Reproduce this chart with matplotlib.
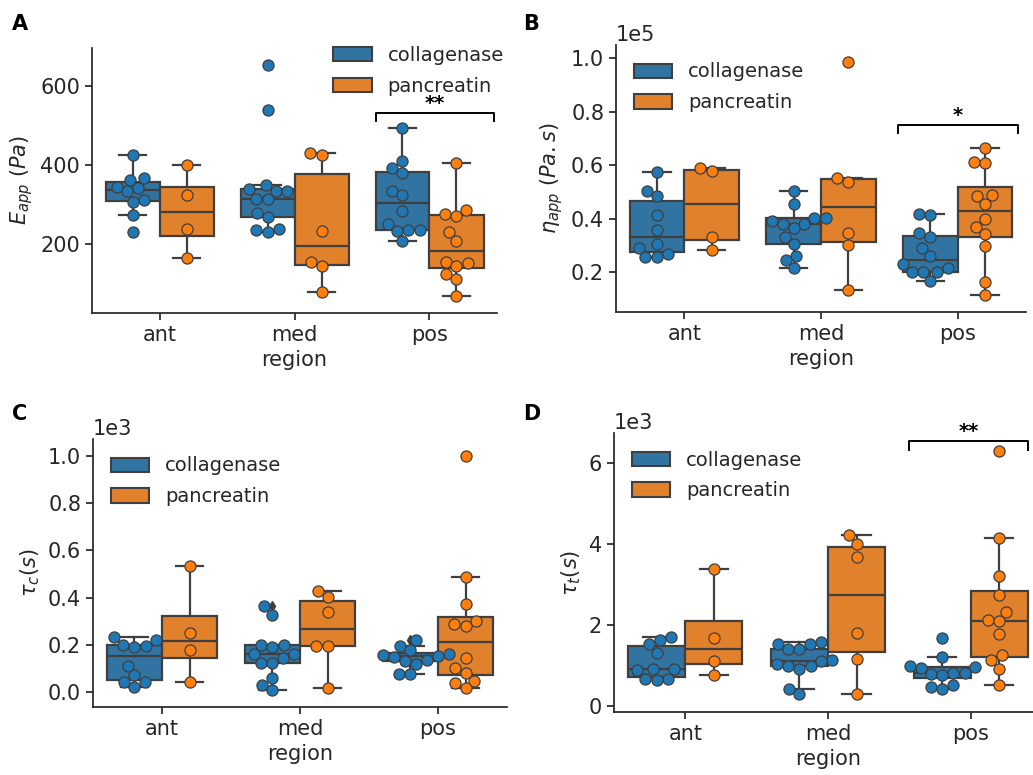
import numpy as np
import matplotlib
matplotlib.use('Agg')
from matplotlib import pyplot as plt
from matplotlib.patches import Patch

regions = ['ant', 'med', 'pos']
groups = ['collagenase', 'pancreatin']

# values per region (ant, med, pos)
eapp_collagenase = [
    [425, 366, 362, 345, 341, 333, 311, 307, 273, 229],
    [653, 539, 348, 338, 333, 333, 314, 313, 279, 268, 237, 235, 229],
    [493, 410, 392, 379, 334, 324, 284, 251, 236, 235, 233, 208],
]
eapp_pancreatin = [
    [400, 324, 237, 165],
    [430, 425, 233, 155, 143, 78],
    [406, 286, 276, 271, 230, 208, 155, 151, 145, 124, 111, 68],
]
eta_collagenase = [
    [57600, 50500, 48300, 41400, 35600, 30600, 29000, 26900, 25500, 25500],
    [50400, 45500, 40200, 40200, 39300, 38100, 38100, 36400, 33100, 30500, 26200, 24600, 21500],
    [41700, 41400, 34600, 33300, 29000, 26100, 23000, 21500, 20200, 20200, 20200, 16800],
]
eta_pancreatin = [
    [58900, 58000, 33100, 28100],
    [98800, 55100, 53900, 34800, 30000, 13400],
    [66400, 61100, 60700, 48900, 48500, 45500, 39900, 36800, 34300, 29600, 16100, 11500],
]
tauc_collagenase = [
    [232, 222, 201, 197, 190, 113, 72, 44, 44, 21],
    [363, 328, 201, 201, 190, 162, 162, 145, 124, 124, 61, 32, 10],
    [222, 197, 180, 162, 158, 155, 151, 135, 134, 121, 79, 79],
]
tauc_pancreatin = [
    [532, 251, 180, 44],
    [429, 403, 339, 197, 197, 18],
    [1000, 486, 375, 300, 290, 282, 145, 103, 82, 49, 39, 18],
]
taut_collagenase = [
    [1712, 1630, 1531, 1325, 930, 930, 889, 683, 683, 658],
    [1588, 1547, 1547, 1424, 1424, 1140, 1120, 1037, 988, 988, 930, 420, 296],
    [1695, 1218, 988, 971, 955, 823, 823, 807, 765, 535, 477, 436],
]
taut_pancreatin = [
    [3383, 1695, 1119, 782],
    [4239, 4016, 3687, 1819, 1177, 296],
    [6305, 4165, 3210, 2741, 2329, 2123, 2107, 1794, 1259, 1136, 930, 519],
]

box_colors = ['#3274a1', '#e1812c']
dot_colors = ['#1f77b4', '#ff7f0e']
line_gray = '#3f3f3f'
text_gray = '#262626'

plt.rcParams['font.family'] = ['DejaVu Sans']
plt.rcParams['font.size'] = 15
plt.rcParams['text.color'] = text_gray
plt.rcParams['axes.labelcolor'] = text_gray
plt.rcParams['xtick.color'] = text_gray
plt.rcParams['ytick.color'] = text_gray
plt.rcParams['axes.edgecolor'] = text_gray


def swarm_x(ax, xc, yvals, diam):
    '''Beeswarm offsets in pixel space, returned as data x values.'''
    pts = ax.transData.transform(np.column_stack([np.full(len(yvals), xc), yvals]))
    xs = np.empty(len(yvals))
    placed = []
    for i in np.argsort(pts[:, 1]):
        x0, y0 = pts[i]
        near = [(px, py) for px, py in placed if abs(py - y0) < diam]
        cands = [x0]
        for px, py in near:
            dx = np.sqrt(diam ** 2 - (py - y0) ** 2)
            cands += [px - dx, px + dx]
        cands.sort(key=lambda c: abs(c - x0))
        for c in cands:
            if all((c - px) ** 2 + (y0 - py) ** 2 >= diam ** 2 - 1e-6 for px, py in near):
                break
        placed.append((c, y0))
        xs[i] = c
    back = ax.transData.inverted().transform(np.column_stack([xs, pts[:, 1]]))
    return back[:, 0]


def draw_panel(ax, col, pan, ylim, yticks, ylabel, sci=False, legend_kw=None):
    ax.set_xlim(-0.5, 2.5)
    ax.set_ylim(*ylim)
    for g, data in enumerate([col, pan]):
        pos = [i - 0.2 + 0.4 * g for i in range(3)]
        ax.boxplot(data, positions=pos, widths=0.4, patch_artist=True, manage_ticks=False,
                   boxprops=dict(facecolor=box_colors[g], edgecolor=line_gray, linewidth=1.6),
                   medianprops=dict(color=line_gray, linewidth=1.6),
                   whiskerprops=dict(color=line_gray, linewidth=1.6),
                   capprops=dict(color=line_gray, linewidth=1.6),
                   flierprops=dict(marker='d', markerfacecolor=line_gray,
                                   markeredgecolor=line_gray, markersize=5))
        for p, vals in zip(pos, data):
            xs = swarm_x(ax, p, vals, 11.5)
            ax.scatter(xs, vals, s=64, color=dot_colors[g], edgecolor=line_gray,
                       linewidth=0.9, zorder=5)
    ax.set_xlim(-0.5, 2.5)
    ax.set_ylim(*ylim)
    ax.set_xticks(range(3), regions)
    ax.set_yticks(yticks)
    if sci:
        ax.ticklabel_format(axis='y', style='sci', scilimits=(0, 0))
    ax.set_xlabel('region')
    ax.set_ylabel(ylabel)
    ax.spines['top'].set_visible(False)
    ax.spines['right'].set_visible(False)
    for s in ['left', 'bottom']:
        ax.spines[s].set_linewidth(1.25)
    ax.tick_params(width=1.25, length=5, labelsize=15)
    handles = [Patch(facecolor=box_colors[g], edgecolor=line_gray, linewidth=1.5, label=groups[g])
               for g in range(2)]
    ax.legend(handles=handles, frameon=False, fontsize=14, handleheight=0.75,
              labelspacing=0.6, **(legend_kw or {}))


def bracket(ax, x0, x1, y, h, text):
    ax.plot([x0, x0, x1, x1], [y - h, y, y, y - h], color='black', linewidth=1.4, clip_on=False)
    ax.text((x0 + x1) / 2, y, text, ha='center', va='bottom', fontsize=14,
            fontweight='bold', color='black')


fig = plt.figure(figsize=(10.33, 7.75), dpi=100)
W, H = 1033, 775
axA = fig.add_axes([92 / W, 1 - 313 / H, 405 / W, 265 / H])
axB = fig.add_axes([616 / W, 1 - 312 / H, 410 / W, 267 / H])
axC = fig.add_axes([93 / W, 1 - 707 / H, 414 / W, 268 / H])
axD = fig.add_axes([614 / W, 1 - 712 / H, 428 / W, 279 / H])

draw_panel(axA, eapp_collagenase, eapp_pancreatin, (25, 696), [200, 400, 600],
           r'$E_{app}\ (Pa)$',
           legend_kw=dict(loc='upper right', bbox_to_anchor=(1.06, 1.073)))
draw_panel(axB, eta_collagenase, eta_pancreatin, (5050, 105000),
           [20000, 40000, 60000, 80000, 100000], r'$\eta_{app}\ (Pa.s)$', sci=True,
           legend_kw=dict(loc='upper left'))
draw_panel(axC, tauc_collagenase, tauc_pancreatin, (-62, 1070),
           [0, 200, 400, 600, 800, 1000], r'$\tau_c(s)$', sci=True,
           legend_kw=dict(loc='upper left'))
draw_panel(axD, taut_collagenase, taut_pancreatin, (-140, 6750),
           [0, 2000, 4000, 6000], r'$\tau_t(s)$', sci=True,
           legend_kw=dict(loc='upper left'))

bracket(axA, 1.60, 2.475, 531, 20, '**')
bracket(axB, 1.56, 2.44, 75100, 3100, '*')
bracket(axD, 1.57, 2.40, 6550, 210, '**')

fig.text(12 / W, 1 - 30 / H, 'A', fontsize=15, fontweight='bold', color='black')
fig.text(523 / W, 1 - 30 / H, 'B', fontsize=15, fontweight='bold', color='black')
fig.text(12 / W, 1 - 420 / H, 'C', fontsize=15, fontweight='bold', color='black')
fig.text(523 / W, 1 - 420 / H, 'D', fontsize=15, fontweight='bold', color='black')

fig.savefig('out.png', dpi=100)
